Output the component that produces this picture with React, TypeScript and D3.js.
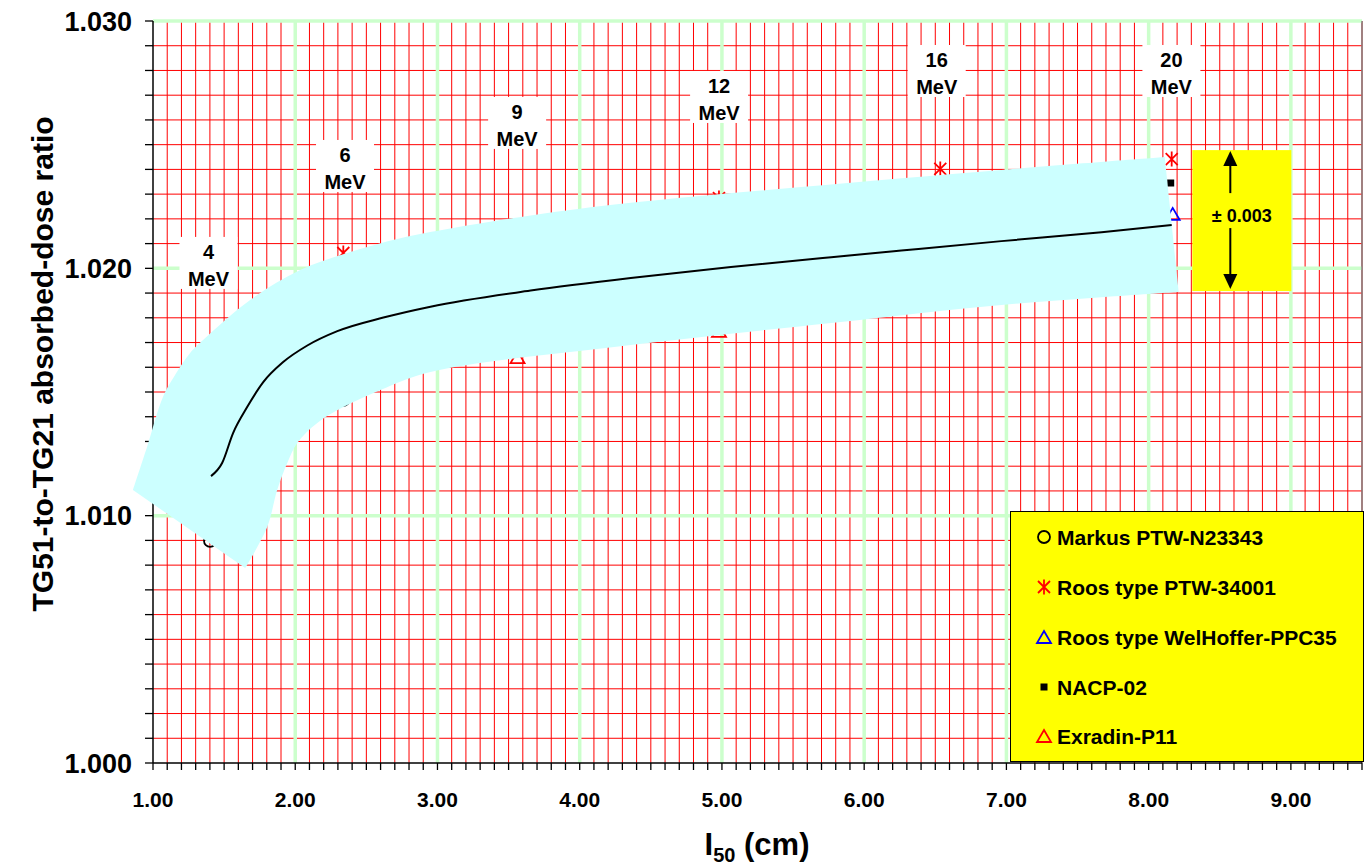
import React from 'react';
import * as d3 from 'd3';

const W = 1367;
const H = 865;

// axis ticks
const xTickLabels = [1, 2, 3, 4, 5, 6, 7, 8, 9];
const yTickLabels = [1.0, 1.01, 1.02, 1.03];

// central fit line
const lineX = [1.408, 1.486, 1.563, 1.662, 1.775, 1.915, 2.085, 2.296, 2.62, 2.951, 3.655, 4.359, 5.063, 5.768, 6.261, 6.965, 7.669, 8.162];
const lineY = [1.0116, 1.01213, 1.01334, 1.01439, 1.0154, 1.01621, 1.01688, 1.01746, 1.01801, 1.01845, 1.0191, 1.01961, 1.02005, 1.02045, 1.02072, 1.0211, 1.02146, 1.02175];

// uncertainty band (drawn shape)
const bandUpperX = [0.859, 0.958, 1.07, 1.155, 1.261, 1.352, 1.683, 2.035, 2.387, 2.739, 3.1, 3.655, 4.359, 5.556, 6.965, 8.113];
const bandUpperY = [1.01104, 1.01278, 1.0148, 1.01569, 1.01658, 1.0171, 1.01872, 1.01993, 1.02066, 1.02122, 1.02162, 1.02214, 1.02265, 1.02329, 1.02398, 1.0245];
const bandLowerX = [8.211, 6.965, 5.768, 4.359, 2.951, 2.599, 2.338, 2.155, 2.014, 1.944, 1.873, 1.803, 1.648];
const bandLowerY = [1.01904, 1.01852, 1.01779, 1.0169, 1.01581, 1.01508, 1.01439, 1.01375, 1.01294, 1.01213, 1.01104, 1.00954, 1.00788];

// chamber series
const markusX = [1.401, 2.338];
const markusY = [1.00898, 1.01468];
const roosPtwX = [2.338, 4.979, 6.535, 8.162];
const roosPtwY = [1.02062, 1.02284, 1.02402, 1.02442];
const roosWhX = [8.169];
const roosWhY = [1.0222];
const nacpX = [8.155];
const nacpY = [1.02345];
const exradinX = [3.563, 4.979];
const exradinY = [1.01641, 1.01747];

// energy labels
const energyNames = ['4', '6', '9', '12', '16', '20'];
const energyLabelX = [1.39, 2.35, 3.56, 4.98, 6.51, 8.16];
const energyLabelTop = [1.02127, 1.02519, 1.02693, 1.02798, 1.02903, 1.02903];

// +/- annotation box
const errBoxX = [8.307, 9.003];
const errBoxY = [1.02478, 1.01908];
const errText = '± 0.003';

const legendNames = ['Markus PTW-N23343', 'Roos type PTW-34001', 'Roos type WelHoffer-PPC35', 'NACP-02', 'Exradin-P11'];

const FONT = "Arial, 'Liberation Sans', Helvetica, sans-serif";

const x = d3.scaleLinear().domain([1, 9.5]).range([153, 1362]);
const y = d3.scaleLinear().domain([1.0, 1.03]).range([763, 21]);

function Circle({ cx, cy }: { cx: number; cy: number }) {
  return <circle cx={cx} cy={cy} r={6} fill="none" stroke="#000" strokeWidth={1.8} />;
}
function Asterisk({ cx, cy }: { cx: number; cy: number }) {
  const s = 7.5;
  const d = 6;
  return (
    <path
      d={`M${cx},${cy - s}L${cx},${cy + s}M${cx - d},${cy - d}L${cx + d},${cy + d}M${cx - d},${cy + d}L${cx + d},${cy - d}`}
      stroke="#ff0000"
      strokeWidth={1.8}
      fill="none"
    />
  );
}
function Triangle({ cx, cy, color }: { cx: number; cy: number; color: string }) {
  const w = 7;
  const h = 6;
  return (
    <path
      d={`M${cx},${cy - h}L${cx + w},${cy + h}L${cx - w},${cy + h}Z`}
      stroke={color}
      strokeWidth={1.8}
      fill="none"
    />
  );
}
function Square({ cx, cy }: { cx: number; cy: number }) {
  return <rect x={cx - 3.5} y={cy - 3.5} width={7} height={7} fill="#000" />;
}

export default function App() {
  const minorX = d3.range(0, 86).map((i) => +(1 + i * 0.1).toFixed(2));
  const minorY = d3.range(0, 31).map((i) => +(1 + i * 0.001).toFixed(4));

  const curve = d3.line<[number, number]>().x((d) => x(d[0])).y((d) => y(d[1])).curve(d3.curveCatmullRom.alpha(0.5));
  const smooth = d3.line<[number, number]>().x((d) => x(d[0])).y((d) => y(d[1])).curve(d3.curveMonotoneX);
  const upperPts = bandUpperX.map((v, i) => [v, bandUpperY[i]] as [number, number]);
  const lowerPts = bandLowerX.map((v, i) => [v, bandLowerY[i]] as [number, number]);
  const bandPath = `${curve(upperPts)}${(curve(lowerPts) || '').replace(/^M/, 'L')}Z`;
  const linePts = lineX.map((v, i) => [v, lineY[i]] as [number, number]);
  const linePath = smooth(linePts) || '';

  const bx0 = x(errBoxX[0]);
  const bx1 = x(errBoxX[1]);
  const by0 = y(errBoxY[0]);
  const by1 = y(errBoxY[1]);
  const ax = bx0 + 38;

  const legX = 1010.5;
  const legY = 511.5;
  const rowY = [537, 587, 637, 687, 736];

  return (
    <svg width={W} height={H} style={{ position: 'absolute', left: 0, top: 0, background: '#fff' }} fontFamily={FONT}>
      {/* red minor grid */}
      <g stroke="#ff0000" strokeWidth={1}>
        {minorX.filter((v) => Math.abs(v - Math.round(v)) > 1e-6).map((v) => (
          <line key={'gx' + v} x1={x(v)} x2={x(v)} y1={y(1.0)} y2={y(1.03)} />
        ))}
        {minorY.filter((v) => Math.round(v * 1000) % 10 !== 0).map((v) => (
          <line key={'gy' + v} x1={x(1)} x2={x(9.5)} y1={y(v)} y2={y(v)} />
        ))}
      </g>
      {/* green major grid */}
      <g stroke="#ccffcc" strokeWidth={3.5}>
        {xTickLabels.filter((v) => v > 1).map((v) => (
          <line key={'Gx' + v} x1={x(v)} x2={x(v)} y1={y(1.0)} y2={y(1.03)} />
        ))}
        {yTickLabels.filter((v) => v > 1.0).map((v) => (
          <line key={'Gy' + v} x1={x(1)} x2={x(9.5)} y1={y(v)} y2={y(v)} />
        ))}
      </g>
      <line x1={x(9.5)} x2={x(9.5)} y1={y(1.03)} y2={y(1.0)} stroke="#808080" strokeWidth={1.5} />

      {/* axes */}
      <g stroke="#000" strokeWidth={1.5}>
        <line x1={x(1)} x2={x(1)} y1={y(1.03)} y2={y(1.0)} />
        <line x1={x(1)} x2={x(9.5)} y1={y(1.0)} y2={y(1.0)} />
        {minorY.map((v) => (
          <line key={'ty' + v} x1={x(1) - 8} x2={x(1)} y1={y(v)} y2={y(v)} strokeWidth={1.3} />
        ))}
        {minorX.map((v) => (
          <line key={'tx' + v} x1={x(v)} x2={x(v)} y1={y(1.0)} y2={y(1.0) + 7} strokeWidth={1.3} />
        ))}
      </g>

      {/* markers (under the band) */}
      {markusX.map((v, i) => <Circle key={'m' + i} cx={x(v)} cy={y(markusY[i])} />)}
      {roosPtwX.map((v, i) => <Asterisk key={'r' + i} cx={x(v)} cy={y(roosPtwY[i])} />)}
      {roosWhX.map((v, i) => <Triangle key={'w' + i} cx={x(v)} cy={y(roosWhY[i])} color="#0000ff" />)}
      {nacpX.map((v, i) => <Square key={'n' + i} cx={x(v)} cy={y(nacpY[i])} />)}
      {exradinX.map((v, i) => <Triangle key={'e' + i} cx={x(v)} cy={y(exradinY[i])} color="#ff0000" />)}

      {/* band */}
      <path d={bandPath} fill="#ccffff" stroke="none" />
      {/* fit line */}
      <path d={linePath} fill="none" stroke="#000" strokeWidth={2} />

      <g fontWeight="bold" fontSize={27} textAnchor="end" fill="#000">
        {yTickLabels.map((v) => (
          <text key={'yl' + v} x={132} y={y(v) + 9.5}>{v.toFixed(3)}</text>
        ))}
      </g>
      <g fontWeight="bold" fontSize={21} textAnchor="middle" fill="#000">
        {xTickLabels.map((v) => (
          <text key={'xl' + v} x={x(v)} y={807}>{v.toFixed(2)}</text>
        ))}
      </g>
      <text x={757} y={855} textAnchor="middle" fontWeight="bold" fontSize={31}>
        I<tspan fontSize={20} dy={7}>50</tspan><tspan dy={-7}> (cm)</tspan>
      </text>
      <text transform="translate(53,364) rotate(-90)" textAnchor="middle" fontWeight="bold" fontSize={30}>
        TG51-to-TG21 absorbed-dose ratio
      </text>

      {/* energy labels */}
      {energyNames.map((n, i) => {
        const cx = x(energyLabelX[i]);
        const top = y(energyLabelTop[i]);
        return (
          <g key={'en' + n}>
            <rect x={cx - 29} y={top} width={58} height={52} fill="#fff" />
            <text x={cx} y={top + 22} textAnchor="middle" fontWeight="bold" fontSize={20}>{n}</text>
            <text x={cx} y={top + 49} textAnchor="middle" fontWeight="bold" fontSize={20}>MeV</text>
          </g>
        );
      })}

      {/* +/- box */}
      <rect x={bx0} y={by0} width={bx1 - bx0} height={by1 - by0} fill="#ffff00" />
      <line x1={ax} x2={ax} y1={by0 + 15} y2={by0 + 43} stroke="#000" strokeWidth={2} />
      <path d={`M${ax},${by0 + 1}L${ax + 7},${by0 + 16}L${ax - 7},${by0 + 16}Z`} fill="#000" />
      <line x1={ax} x2={ax} y1={by1 - 63} y2={by1 - 16} stroke="#000" strokeWidth={2} />
      <path d={`M${ax},${by1 - 2}L${ax + 7},${by1 - 17}L${ax - 7},${by1 - 17}Z`} fill="#000" />
      <text x={(bx0 + bx1) / 2} y={by0 + 72} textAnchor="middle" fontWeight="bold" fontSize={18}>{errText}</text>

      {/* legend */}
      <rect x={legX} y={legY} width={353} height={250} fill="#ffff00" stroke="#000" strokeWidth={1} />
      <Circle cx={1044} cy={rowY[0]} />
      <Asterisk cx={1044} cy={rowY[1]} />
      <Triangle cx={1044} cy={rowY[2]} color="#0000ff" />
      <Square cx={1044} cy={rowY[3]} />
      <Triangle cx={1044} cy={rowY[4]} color="#ff0000" />
      <g fontWeight="bold" fontSize={21}>
        {legendNames.map((n, i) => (
          <text key={'lg' + i} x={1057} y={rowY[i] + 7.5}>{n}</text>
        ))}
      </g>
    </svg>
  );
}
